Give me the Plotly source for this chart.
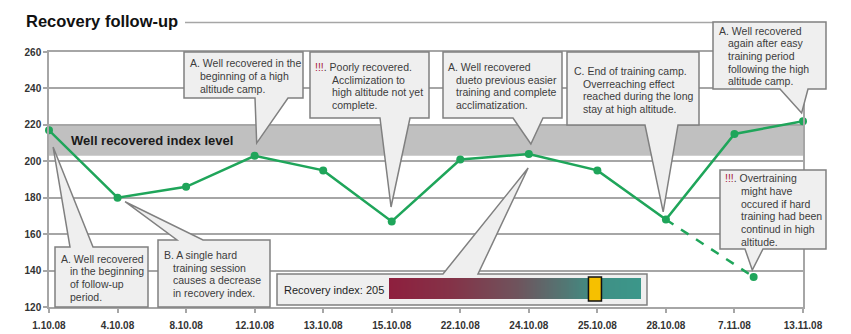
import plotly.graph_objects as go

# ---- data ---------------------------------------------------------------
dates = ["1.10.08", "4.10.08", "8.10.08", "12.10.08", "13.10.08", "15.10.08",
         "22.10.08", "24.10.08", "25.10.08", "28.10.08", "7.11.08", "13.11.08"]
recovery_index = [217, 180, 186, 203, 195, 167, 201, 204, 195, 168, 215, 222]

# projected course if hard training had continued at altitude
projection_from = 9            # index of 28.10.08
projection_pos = 10.28         # position between 7.11.08 and 13.11.08
projection_value = 136.5

well_recovered_low = 203
well_recovered_high = 220

current_index = 205
gauge_min, gauge_max = 120, 224

y_min, y_max, y_step = 120, 260, 20

# ---- canvas geometry ------------------------------------------------------
W, H = 851, 334
L, R, T, B = 49, 803, 52, 307          # plot area in pixels
n_cat = len(dates)
x_pos = list(range(n_cat))

FONT = "Liberation Sans, Arial, sans-serif"
GREEN = "#1fa55a"
GRID = "#a6a6a6"
TEXT = "#3c3c3c"


def pxx(x):
    return (x - L) / (R - L)


def pxy(y):
    return (B - y) / (B - T)


def dx(i):
    return i / (n_cat - 1)


def dy(v):
    return (v - y_min) / (y_max - y_min)


fig = go.Figure()

# main recovery line
fig.add_trace(go.Scatter(
    x=x_pos, y=recovery_index, mode="lines+markers",
    line=dict(color=GREEN, width=2.5),
    marker=dict(color=GREEN, size=8),
    cliponaxis=False, showlegend=False, hoverinfo="skip"))

# dashed projection
fig.add_trace(go.Scatter(
    x=[projection_from, projection_pos],
    y=[recovery_index[projection_from], projection_value],
    mode="lines", line=dict(color=GREEN, width=2.5, dash="dash"),
    cliponaxis=False, showlegend=False, hoverinfo="skip"))
fig.add_trace(go.Scatter(
    x=[projection_pos], y=[projection_value], mode="markers",
    marker=dict(color=GREEN, size=8), cliponaxis=False,
    showlegend=False, hoverinfo="skip"))

shapes = []
annotations = []

# well recovered band
shapes.append(dict(type="rect", xref="paper", yref="y", x0=0, x1=1,
                   y0=well_recovered_low, y1=well_recovered_high,
                   fillcolor="#c0c0c0", line=dict(width=0), layer="between"))
annotations.append(dict(text="<b>Well recovered index level</b>", xref="paper", yref="paper",
                        x=pxx(69), y=dy((well_recovered_low + well_recovered_high) / 2),
                        xanchor="left", yanchor="middle", showarrow=False,
                        font=dict(family=FONT, size=13, color="#1a1a1a")))

# title with rule
annotations.append(dict(text="<b>Recovery follow-up</b>", xref="paper", yref="paper",
                        x=pxx(24), y=pxy(21.5), xanchor="left", yanchor="middle",
                        showarrow=False, font=dict(family=FONT, size=16.5, color="#111111")))
shapes.append(dict(type="line", xref="paper", yref="paper",
                   x0=pxx(185), x1=pxx(803), y0=pxy(22.5), y1=pxy(22.5),
                   line=dict(color=GRID, width=1.5)))


def callout(box, wedge, side, tip, lines=None, x_first=None, x_indent=None,
            y_first=None, spacing=12.7, size=10.5):
    x0, y0, x1, y1 = box
    b0, b1 = wedge
    tx, ty = dx(tip[0]), dy(tip[1])
    if side == "top":
        pts = [(pxx(x0), pxy(y0)), (pxx(b0), pxy(y0)), (tx, ty), (pxx(b1), pxy(y0)),
               (pxx(x1), pxy(y0)), (pxx(x1), pxy(y1)), (pxx(x0), pxy(y1))]
    else:
        pts = [(pxx(x0), pxy(y0)), (pxx(x1), pxy(y0)), (pxx(x1), pxy(y1)),
               (pxx(b1), pxy(y1)), (tx, ty), (pxx(b0), pxy(y1)), (pxx(x0), pxy(y1))]
    path = "M " + " L ".join(f"{a:.5f},{b:.5f}" for a, b in pts) + " Z"
    shapes.append(dict(type="path", xref="paper", yref="paper", path=path,
                       fillcolor="#efefef", line=dict(color="#808080", width=1.5)))
    if lines:
        for k, line in enumerate(lines):
            annotations.append(dict(
                text=line, xref="paper", yref="paper",
                x=pxx(x_first if k == 0 else x_indent), y=pxy(y_first + k * spacing),
                xanchor="left", yanchor="middle", showarrow=False,
                font=dict(family=FONT, size=size, color=TEXT)))


WARN = "<span style='color:#a8203c'>!!!</span>."

callout((55, 247, 148, 307), (70, 93), "top", (0.06, 207.8),
        ["A. Well recovered", "in the beginning", "of follow-up", "period."],
        59, 68, 258.5, 12.8)
callout((158, 240, 270, 307), (177, 203), "top", (1.11, 177.8),
        ["B. A single hard", "training session", "causes a decrease", "in recovery index."],
        162, 171, 255, 12.6)
callout((184, 52, 303, 98), (255, 288), "bottom", (3.03, 210),
        ["A. Well recovered in the", "beginning of a high", "altitude camp."],
        188, 198, 63, 12.8)
callout((310, 52, 429, 118), (380, 410), "bottom", (4.99, 174.9),
        [WARN + " Poorly recovered.", "Acclimization to", "high altitude not yet", "complete."],
        313, 330, 67, 12.6)
callout((443, 52, 562, 118), (513, 543), "bottom", (7.03, 209.5),
        ["A. Well recovered", "dueto previous easier", "training and complete", "acclimatization."],
        446, 454, 67, 12.6)
callout((567, 52, 699, 125), (645, 678), "bottom", (8.96, 172.2),
        ["C. End of training camp.", "Overreaching effect", "reached during the long",
         "stay at high altitude."],
        572, 581, 71, 12.5)
callout((713, 22, 826, 89), (780, 808), "bottom", (10.98, 226.5),
        ["A. Well recovered", "again after easy", "training period",
         "following the high", "altitude camp."],
        717, 726, 31, 12.5)
callout((720, 170, 826, 249), (745, 763), "bottom", (10.26, 140.3),
        [WARN + " Overtraining", "might have", "occured if hard", "training had been",
         "continud in high", "altitude."],
        723, 739, 178, 12.8)

# recovery index gauge box
callout((277, 274, 647, 305), (443, 478), "top", (6.99, 196.3))
annotations.append(dict(text=f"Recovery index: {current_index}", xref="paper", yref="paper",
                        x=pxx(282), y=pxy(290), xanchor="left", yanchor="middle",
                        showarrow=False, font=dict(family=FONT, size=11, color="#1e1e1e")))

bar_x0, bar_x1, bar_y0, bar_y1 = 389, 641, 278, 299
stops = [(0.0, (0x8e, 0x1f, 0x3e)), (0.25, (0x84, 0x33, 0x48)), (0.5, (0x70, 0x52, 0x5c)),
         (0.7, (0x52, 0x77, 0x74)), (0.82, (0x3f, 0x8f, 0x85)), (1.0, (0x3c, 0x97, 0x8a))]


def grad_color(t):
    for (t0, c0), (t1, c1) in zip(stops[:-1], stops[1:]):
        if t <= t1:
            f = (t - t0) / (t1 - t0)
            return "rgb({},{},{})".format(*[round(a + (b - a) * f) for a, b in zip(c0, c1)])
    return "rgb({},{},{})".format(*stops[-1][1])


n_strips = 126
sw = (bar_x1 - bar_x0) / n_strips
for k in range(n_strips):
    sx0 = bar_x0 + k * sw
    shapes.append(dict(type="rect", xref="paper", yref="paper",
                       x0=pxx(sx0), x1=pxx(min(sx0 + sw + 0.6, bar_x1)),
                       y0=pxy(bar_y1), y1=pxy(bar_y0),
                       fillcolor=grad_color((k + 0.5) / n_strips), line=dict(width=0)))

frac = (current_index - gauge_min) / (gauge_max - gauge_min)
mx = bar_x0 + frac * (bar_x1 - bar_x0)
shapes.append(dict(type="rect", xref="paper", yref="paper",
                   x0=pxx(mx - 6.5), x1=pxx(mx + 6.5), y0=pxy(301), y1=pxy(277),
                   fillcolor="#f6c000", line=dict(color="#111111", width=1.5)))

fig.update_layout(
    width=W, height=H,
    margin=dict(l=L, r=W - R, t=T, b=H - B, autoexpand=False),
    paper_bgcolor="white", plot_bgcolor="white",
    shapes=shapes, annotations=annotations,
    xaxis=dict(range=[0, n_cat - 1], tickmode="array", tickvals=x_pos,
               ticktext=[f"<b>{d}</b>" for d in dates], automargin=False,
               showgrid=False, zeroline=False, showline=True, mirror=True,
               linecolor=GRID, linewidth=1.5, ticks="outside", ticklen=4,
               tickcolor=GRID, tickwidth=1.5, ticklabelstandoff=4,
               tickfont=dict(family=FONT, size=10, color="#333333"),
               fixedrange=True),
    yaxis=dict(range=[y_min, y_max], dtick=y_step, tick0=y_min, showgrid=True,
               gridcolor=GRID, gridwidth=1.5, zeroline=False, showline=True, mirror=True,
               linecolor=GRID, linewidth=1.5, ticks="outside", ticklen=4,
               tickcolor=GRID, tickwidth=1.5, automargin=False,
               tickfont=dict(family=FONT, size=10, color="#333333"),
               tickprefix="<b>", ticksuffix="</b>", fixedrange=True),
)

fig.write_html("out.html")
